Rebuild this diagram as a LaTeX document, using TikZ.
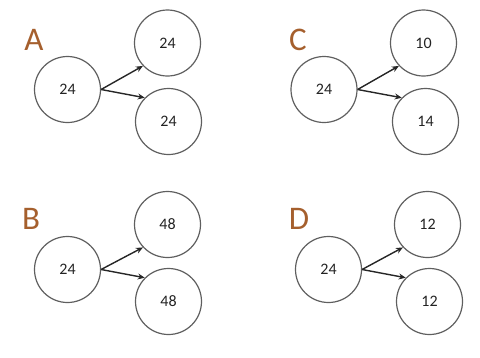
\documentclass[tikz,border=0pt]{standalone}
\usepackage{fontspec}
\setmainfont{Carlito}
\usetikzlibrary{arrows.meta}
\definecolor{lblbrown}{RGB}{165,95,45}
\definecolor{ringgray}{RGB}{95,95,95}
\definecolor{numgray}{RGB}{35,35,35}
\begin{document}
\begin{tikzpicture}[x=1pt,y=-1pt,
  ball/.style={circle,draw=ringgray,line width=1.2pt,minimum size=66pt,inner sep=0pt,
    font=\fontsize{16}{16}\selectfont,text=numgray},
  panel/.style={font=\fontsize{33}{33}\selectfont,text=lblbrown},
  conn/.style={-{Stealth[length=7pt,width=6pt]},line width=1.4pt,black!85}]
\useasboundingbox (0,0) rectangle (480,357);
% A
\node[panel] (la) at (34,40) {A};
\node[ball] (a0) at (67.5,89.5) {24};
\node[ball] (a1) at (167.5,43) {24};
\node[ball] (a2) at (168.5,121.5) {24};
\draw[conn] (a0.east) -- (a1.223);
\draw[conn] (a0.east) -- (a2.135);
% C
\node[panel] (lc) at (298,40) {C};
\node[ball] (c0) at (324,89.5) {24};
\node[ball] (c1) at (423.5,43) {10};
\node[ball] (c2) at (425.5,121.5) {14};
\draw[conn] (c0.east) -- (c1.223);
\draw[conn] (c0.east) -- (c2.135);
% B
\node[panel] (lb) at (31,219) {B};
\node[ball] (b0) at (67.5,269.5) {24};
\node[ball] (b1) at (167.5,224.5) {48};
\node[ball] (b2) at (168.5,301.5) {48};
\draw[conn] (b0.east) -- (b1.223);
\draw[conn] (b0.east) -- (b2.135);
% D
\node[panel] (ld) at (299,219) {D};
\node[ball] (d0) at (328.5,269.5) {24};
\node[ball] (d1) at (427.5,224.5) {12};
\node[ball] (d2) at (429.5,301.5) {12};
\draw[conn] (d0.east) -- (d1.223);
\draw[conn] (d0.east) -- (d2.135);
\end{tikzpicture}
\end{document}
